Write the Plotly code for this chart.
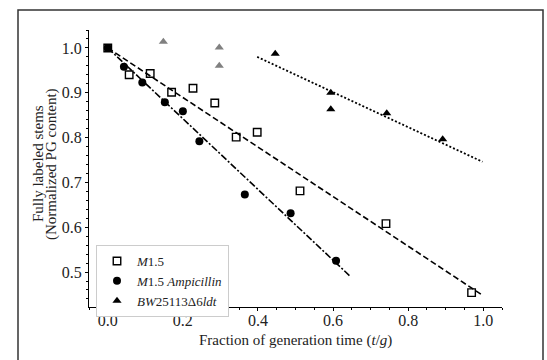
import plotly.graph_objects as go

# Data
m15_x = [0.0, 0.057, 0.113, 0.170, 0.227, 0.285, 0.342, 0.398, 0.512, 0.741, 0.969]
m15_y = [1.000, 0.940, 0.943, 0.901, 0.910, 0.877, 0.801, 0.812, 0.681, 0.608, 0.454]

amp_x = [0.0, 0.043, 0.092, 0.152, 0.200, 0.244, 0.365, 0.487, 0.608]
amp_y = [1.000, 0.958, 0.923, 0.879, 0.859, 0.792, 0.673, 0.631, 0.525]

bw_x = [0.446, 0.594, 0.594, 0.743, 0.892]
bw_y = [0.987, 0.900, 0.863, 0.854, 0.796]

bw_gray_x = [0.148, 0.297, 0.297]
bw_gray_y = [1.014, 1.001, 0.960]

# Fit line endpoints
fit_m15_x = [0.0, 0.995]
fit_m15_y = [1.0, 0.450]
fit_amp_x = [0.0, 0.645]
fit_amp_y = [1.0, 0.491]
fit_bw_x = [0.398, 0.998]
fit_bw_y = [0.980, 0.746]

labels = ["<i>M</i>1.5", "<i>M</i>1.5 <i>Ampicillin</i>", "<i>BW</i>25113Δ6<i>ldt</i>"]
x_title = "Fraction of generation time (<i>t</i>/<i>g</i>)"
y_title_lines = ["Fully labeled stems", "(Normalized PG content)"]

FONT = "Liberation Serif, serif"
TXT = "#222222"

fig = go.Figure()
fig.add_trace(go.Scatter(x=fit_m15_x, y=fit_m15_y, mode="lines", showlegend=False,
                         line=dict(color="black", width=1.6, dash="6px,3px")))
fig.add_trace(go.Scatter(x=fit_amp_x, y=fit_amp_y, mode="lines", showlegend=False,
                         line=dict(color="black", width=1.6, dash="7px,2px,2px,2px")))
fig.add_trace(go.Scatter(x=fit_bw_x, y=fit_bw_y, mode="lines", showlegend=False,
                         line=dict(color="black", width=1.8, dash="2px,2px")))

fig.add_trace(go.Scatter(x=m15_x, y=m15_y, mode="markers", name=labels[0],
                         marker=dict(symbol="square-open", size=7.5, color="black",
                                     line=dict(width=1.4, color="black"))))
fig.add_trace(go.Scatter(x=amp_x, y=amp_y, mode="markers", name=labels[1],
                         marker=dict(symbol="circle", size=8, color="black")))
fig.add_trace(go.Scatter(x=bw_x, y=bw_y, mode="markers", name=labels[2],
                         marker=dict(symbol="triangle-up", size=8, color="black")))
fig.add_trace(go.Scatter(x=bw_gray_x, y=bw_gray_y, mode="markers", showlegend=False,
                         marker=dict(symbol="triangle-up", size=8, color="#808080")))

L, R, T, B = 89, 502, 30, 307
W, H = 547, 360
pw, ph = R - L, B - T

def px(x):
    return (x - L) / pw

def py(y):
    return (B - y) / ph

fig.add_shape(type="rect", xref="paper", yref="paper",
              x0=px(18), x1=px(543), y0=py(375), y1=py(10),
              line=dict(color="#333333", width=1.5), fillcolor="rgba(0,0,0,0)", layer="below")

fig.add_annotation(text=x_title, xref="paper", yref="paper", x=px(295), y=py(340),
                   xanchor="center", yanchor="middle", showarrow=False,
                   font=dict(family=FONT, size=15, color=TXT))
for xpos, line in zip([38, 51], y_title_lines):
    fig.add_annotation(text=line, xref="paper", yref="paper", x=px(xpos), y=py(164),
                       xanchor="center", yanchor="middle", showarrow=False, textangle=-90,
                       font=dict(family=FONT, size=15, color=TXT))

axis_common = dict(showgrid=False, zeroline=False, showline=True, linecolor="black",
                   linewidth=1.2, ticks="outside", ticklen=3, tickwidth=1, tickcolor="black",
                   tickfont=dict(family=FONT, size=16, color=TXT))

fig.update_layout(
    width=W, height=H,
    margin=dict(l=L, r=W - R, t=T, b=H - B),
    plot_bgcolor="white", paper_bgcolor="white",
    font=dict(family=FONT, color=TXT),
    xaxis=dict(range=[-0.05, 1.05], tickvals=[0.0, 0.2, 0.4, 0.6, 0.8, 1.0],
               ticktext=["0.0", "0.2", "0.4", "0.6", "0.8", "1.0"],
               minor=dict(dtick=0.05, tick0=0, ticks="outside", ticklen=2, tickcolor="black"),
               ticklabelstandoff=-4,
               **axis_common),
    yaxis=dict(range=[0.422, 1.04], tickvals=[0.5, 0.6, 0.7, 0.8, 0.9, 1.0],
               ticktext=["0.5", "0.6", "0.7", "0.8", "0.9", "1.0"],
               minor=dict(dtick=0.02, tick0=0, ticks="outside", ticklen=2, tickcolor="black"),
               **axis_common),
    legend=dict(x=px(96), y=py(245), xanchor="left", yanchor="top",
                bgcolor="white", bordercolor="#cccccc", borderwidth=1,
                font=dict(family=FONT, size=13, color=TXT),
                itemwidth=30, tracegroupgap=0),
    showlegend=True,
)

fig.write_html("out.html")
